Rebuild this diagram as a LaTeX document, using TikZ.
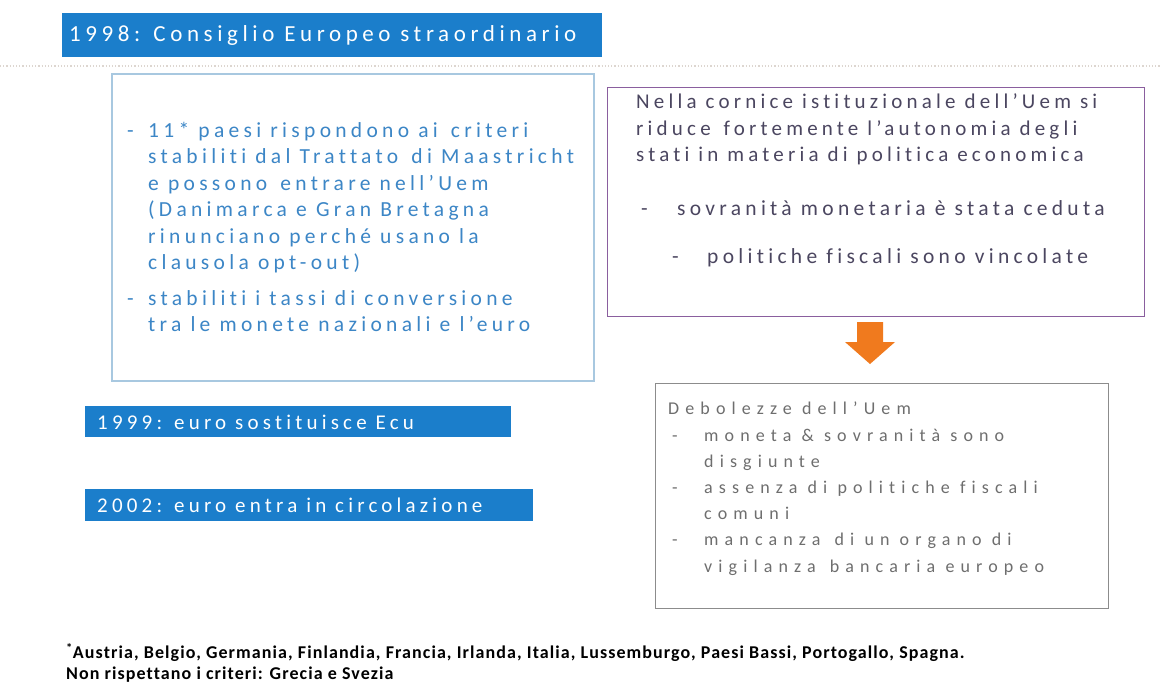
\documentclass[tikz,border=0pt]{standalone}
\usepackage{fontspec}
\setmainfont{Carlito}
\newfontfamily\lsfont[LetterSpace=20,Ligatures=NoCommon]{Carlito}
\newfontfamily\lsfontwide[LetterSpace=34,Ligatures=NoCommon]{Carlito}
\newfontfamily\footfont[LetterSpace=6,Ligatures=NoCommon]{Carlito}
\definecolor{bannerblue}{HTML}{1B7ECB}
\definecolor{lboxborder}{HTML}{A8C8E0}
\definecolor{ltext}{HTML}{3C86C6}
\definecolor{pborder}{HTML}{8A5E9E}
\definecolor{ptext}{HTML}{4B4660}
\definecolor{gborder}{HTML}{8C8C8C}
\definecolor{gtext}{HTML}{6E6E6E}
\definecolor{arroworange}{HTML}{F07A1E}
\definecolor{dotline}{HTML}{DDD6D0}
\newcommand{\xsp}{\hspace{4pt}}
\begin{document}
\begin{tikzpicture}[x=1pt,y=-1pt,
  banner/.style={fill=bannerblue, inner sep=0pt, anchor=north west},
  bannertext/.style={text=white, anchor=west, inner sep=0pt},
  box/.style={anchor=north west, inner sep=0pt},
  txt/.style={anchor=north west, inner sep=0pt, align=left}]
\useasboundingbox[fill=white] (0,0) rectangle (1161,689);
% title banner
\node[banner, minimum width=540, minimum height=44] (b1998) at (62,13) {};
\node[bannertext, font=\lsfont\fontsize{23}{26}\selectfont] (t1998) at (69,35) {1998: Consiglio Europeo straordinario};
\draw[dotline, dotted, line width=1.2pt] (0,66) -- (1161,66);
% left box
\node[box, draw=lboxborder, line width=1.5pt, minimum width=482, minimum height=307] (lbox) at (111,73) {};
\node[txt, text=ltext, font=\lsfont\fontsize{21.5}{26.5}\selectfont] (ltxt) at (127,122) {%
\makebox[21pt][l]{-}11* paesi rispondono ai \xsp criteri\\
\hspace*{21pt}stabiliti dal Trattato \xsp di Maastricht\\
\hspace*{21pt}e possono \xsp entrare nell’Uem\\
\hspace*{21pt}(Danimarca e Gran Bretagna\\
\hspace*{21pt}rinunciano perché usano la\\
\hspace*{21pt}clausola opt-out)\\[9pt]
\makebox[21pt][l]{-}stabiliti i tassi di conversione\\
\hspace*{21pt}tra le monete nazionali e l’euro};
% right purple box
\node[box, draw=pborder, line width=1.2pt, minimum width=537, minimum height=229] (pbox) at (607,87) {};
\node[txt, text=ptext, font=\lsfont\fontsize{21}{26.5}\selectfont] (ptxt) at (636,93.5) {%
Nella cornice istituzionale dell’Uem si\\
riduce \xsp fortemente l’autonomia degli\\
stati in materia di politica economica};
\node[txt, text=ptext, font=\lsfont\fontsize{21.5}{26.5}\selectfont] (ptxt2) at (641,200) {\makebox[36pt][l]{-}sovranità monetaria è stata ceduta};
\node[txt, text=ptext, font=\lsfont\fontsize{21.5}{26.5}\selectfont] (ptxt3) at (672,248) {\makebox[35pt][l]{-}politiche fiscali sono vincolate};
% arrow
\fill[arroworange] (857,322) -- (883,322) -- (883,342) -- (895,342) -- (870,364) -- (845,342) -- (857,342) -- cycle;
% bottom box
\node[box, draw=gborder, line width=1.2pt, minimum width=453, minimum height=225] (gbox) at (655,383) {};
\node[txt, text=gtext, font=\lsfontwide\fontsize{18}{26.2}\selectfont] (gtxt) at (668,402) {%
Debolezze dell’Uem\\
\makebox[36pt][l]{\hspace*{4pt}-}moneta \& sovranità sono\\
\hspace*{36pt}disgiunte\\
\makebox[36pt][l]{\hspace*{4pt}-}assenza di politiche fiscali\\
\hspace*{36pt}comuni\\
\makebox[36pt][l]{\hspace*{4pt}-}mancanza \xsp di un organo di\\
\hspace*{36pt}vigilanza \xsp bancaria europeo};
% banners
\node[banner, minimum width=426, minimum height=31] (b1999) at (85,406) {};
\node[bannertext, font=\lsfont\fontsize{21}{24}\selectfont] (t1999) at (97,422) {1999: euro sostituisce Ecu};
\node[banner, minimum width=448, minimum height=32] (b2002) at (85,489) {};
\node[bannertext, font=\lsfont\fontsize{21}{24}\selectfont] (t2002) at (97,505.5) {2002: euro entra in circolazione};
% footnote
\node[txt, font=\footfont\bfseries\fontsize{18}{21}\selectfont] (foot) at (66,643) {%
\textsuperscript{*}Austria, Belgio, Germania, Finlandia, Francia, Irlanda, Italia, Lussemburgo, Paesi Bassi, Portogallo, Spagna.\\
Non rispettano i criteri: Grecia e Svezia};
\end{tikzpicture}
\end{document}
